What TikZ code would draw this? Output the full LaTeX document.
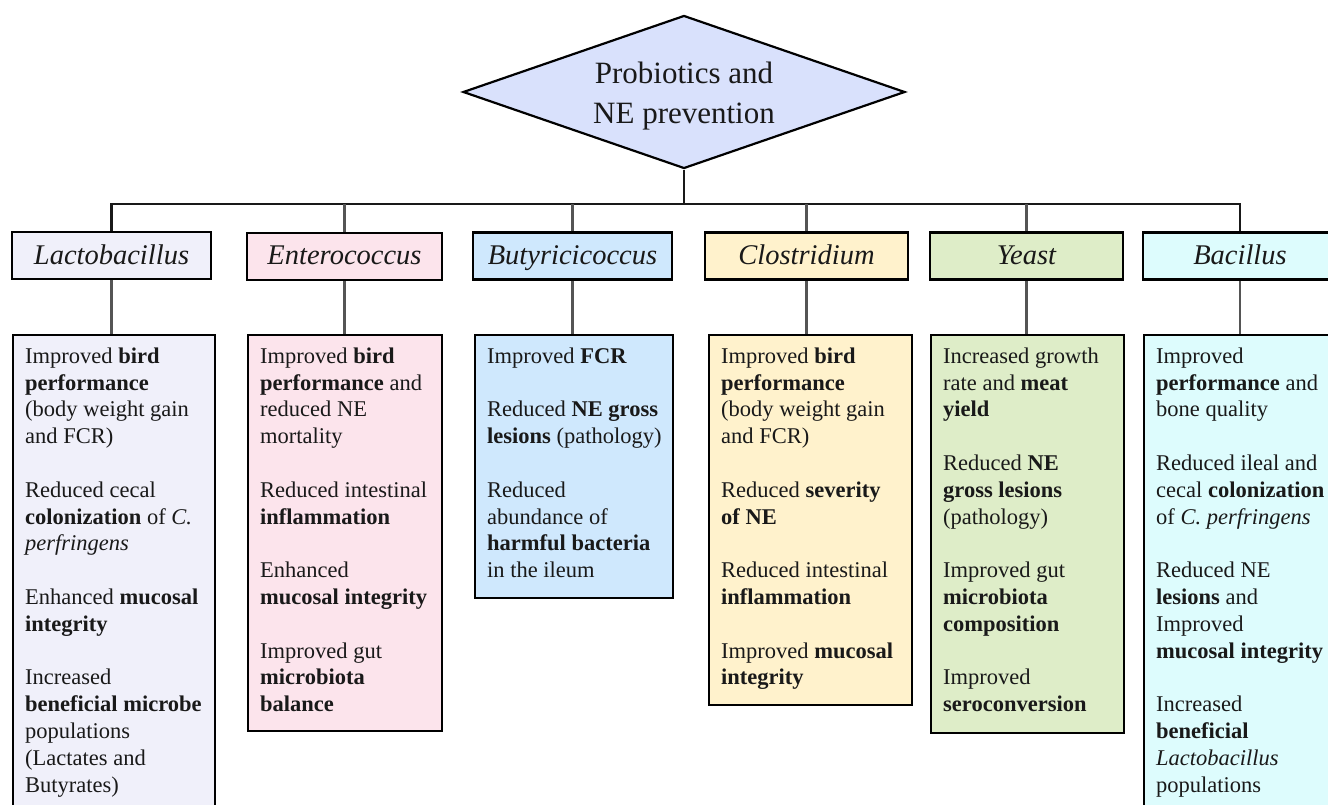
\documentclass[tikz,border=0pt]{standalone}
\usepackage{fontspec}
\setmainfont{Liberation Serif}
\usetikzlibrary{shapes.geometric}
\definecolor{diafill}{RGB}{217,225,252}
\definecolor{lacfill}{RGB}{240,240,250}
\definecolor{entfill}{RGB}{252,228,236}
\definecolor{butfill}{RGB}{207,232,253}
\definecolor{clofill}{RGB}{255,242,204}
\definecolor{yeafill}{RGB}{222,237,200}
\definecolor{basfill}{RGB}{221,252,253}
\definecolor{dropgray}{RGB}{85,85,85}
\newcommand{\bodytext}[3]{\parbox[t][#1][t]{#2}{\raggedright\leftskip=12pt\relax\rule{0pt}{28pt}#3}}
\newcommand{\gap}{\\[26.8pt]}
\tikzset{
  headbox/.style={draw=black, line width=2.6pt, minimum height=47pt, inner sep=0pt,
    text height=21pt, text depth=4pt,
    font=\fontsize{28.5}{32}\selectfont\itshape, text=black!90},
  bodybox/.style={draw=black, line width=2.4pt, inner sep=0pt, anchor=north west,
    font=\fontsize{22.5}{26.8}\selectfont, text=black!90},
  busline/.style={draw=black!90, line width=2.6pt},
  dropline/.style={draw=dropgray, line width=2.4pt},
}
\begin{document}
\begin{tikzpicture}[x=1pt,y=-1pt]
\clip (0,0) rectangle (1328,805);
\fill[white] (0,0) rectangle (1328,805);

% central diamond
\node[diamond, aspect=2.89, draw=black, line width=2.2pt, fill=diafill, minimum width=442pt, minimum height=153pt,
  inner sep=0pt, align=center, font=\fontsize{31}{40}\selectfont, text=black!90] (dia) at (684,92)
  {\rule{0pt}{30pt}Probiotics and\\NE prevention};

% header boxes
\node[headbox, fill=lacfill, minimum width=199pt] (lacH) at (111.5,255.5) {Lactobacillus};
\node[headbox, fill=entfill, minimum width=195pt] (entH) at (344.5,256.5) {Enterococcus};
\node[headbox, fill=butfill, minimum width=199pt] (butH) at (572.5,256) {Butyricicoccus};
\node[headbox, fill=clofill, minimum width=203pt] (cloH) at (806.5,256) {Clostridium};
\node[headbox, fill=yeafill, minimum width=193pt] (yeaH) at (1026.5,256) {Yeast};
\node[headbox, fill=basfill, minimum width=194pt] (basH) at (1240,256) {Bacillus};

% body boxes
\node[bodybox, fill=lacfill] (lacB) at (12,334) {\bodytext{480pt}{202pt}{%
Improved \textbf{bird}\\
\textbf{performance}\\
(body weight gain\\
and FCR)\gap
Reduced cecal\\
\textbf{colonization} of \textit{C.}\\
\textit{perfringens}\gap
Enhanced \textbf{mucosal}\\
\textbf{integrity}\gap
Increased\\
\textbf{beneficial microbe}\\
populations\\
(Lactates and\\
Butyrates)}};

\node[bodybox, fill=entfill] (entB) at (247,334) {\bodytext{396pt}{194pt}{%
Improved \textbf{bird}\\
\textbf{performance} and\\
reduced NE\\
mortality\gap
Reduced intestinal\\
\textbf{inflammation}\gap
Enhanced\\
\textbf{mucosal integrity}\gap
Improved gut\\
\textbf{microbiota}\\
\textbf{balance}}};

\node[bodybox, fill=butfill] (butB) at (474,334) {\bodytext{263pt}{198pt}{%
Improved \textbf{FCR}\gap
Reduced \textbf{NE gross}\\
\textbf{lesions} (pathology)\gap
Reduced\\
abundance of\\
\textbf{harmful bacteria}\\
in the ileum}};

\node[bodybox, fill=clofill] (cloB) at (708,334) {\bodytext{369.6pt}{203pt}{%
Improved \textbf{bird}\\
\textbf{performance}\\
(body weight gain\\
and FCR)\gap
Reduced \textbf{severity}\\
\textbf{of NE}\gap
Reduced intestinal\\
\textbf{inflammation}\gap
Improved \textbf{mucosal}\\
\textbf{integrity}}};

\node[bodybox, fill=yeafill] (yeaB) at (930,334) {\bodytext{398pt}{193pt}{%
Increased growth\\
rate and \textbf{meat}\\
\textbf{yield}\gap
Reduced \textbf{NE}\\
\textbf{gross lesions}\\
(pathology)\gap
Improved gut\\
\textbf{microbiota}\\
\textbf{composition}\gap
Improved\\
\textbf{seroconversion}}};

\node[bodybox, fill=basfill] (basB) at (1143,334) {\bodytext{480pt}{210pt}{%
Improved\\
\textbf{performance} and\\
bone quality\gap
Reduced ileal and\\
cecal \textbf{colonization}\\
of \textit{C. perfringens}\gap
Reduced NE\\
\textbf{lesions} and\\
Improved\\
\textbf{mucosal integrity}\gap
Increased\\
\textbf{beneficial}\\
\textit{Lactobacillus}\\
populations}};

% connectors
\coordinate (bus) at (684,204);
\draw[busline] (dia.south) -- (bus);
\draw[busline] (lacH.north) |- (bus);
\draw[busline] (basH.north) |- (bus);
\foreach \h in {entH,butH,cloH,yeaH} {
  \draw[dropline] (\h.north) -- (\h.north |- bus);
}
\foreach \h/\b in {lacH/lacB,entH/entB,butH/butB,cloH/cloB,yeaH/yeaB,basH/basB} {
  \draw[dropline] (\h.south) -- (\h.south |- \b.north);
}
\end{tikzpicture}
\end{document}
